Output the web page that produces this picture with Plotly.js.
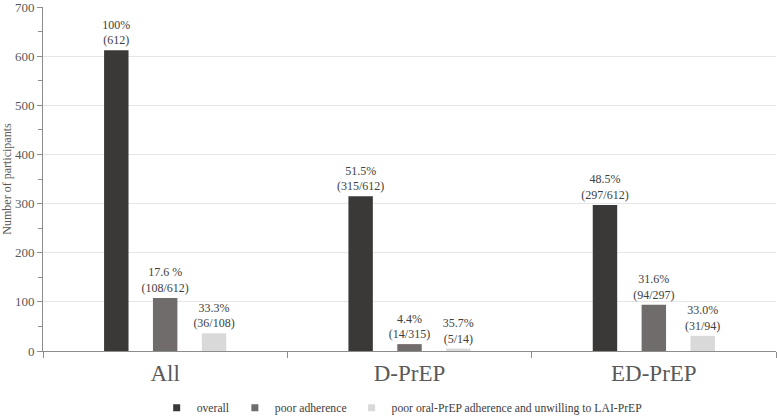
<!DOCTYPE html>
<html>
<head>
<meta charset="utf-8">
<script src="https://cdn.plot.ly/plotly-3.0.1.min.js"></script>
<style>html,body{margin:0;padding:0;background:#fff;}#chart{width:777px;height:417px;}</style>
</head>
<body>
<div id="chart"></div>
<script>
const categories = ["All", "D-PrEP", "ED-PrEP"];
const seriesNames = ["overall", "poor adherence", "poor oral-PrEP adherence and unwilling to LAI-PrEP"];
const overall = [612, 315, 297];
const poorAdherence = [108, 14, 94];
const unwilling = [36, 5, 31];
const overallLabels = ["100%<br>(612)", "51.5%<br>(315/612)", "48.5%<br>(297/612)"];
const poorLabels = ["17.6 %<br>(108/612)", "4.4%<br>(14/315)", "31.6%<br>(94/297)"];
const unwillingLabels = ["33.3%<br>(36/108)", "35.7%<br>(5/14)", "33.0%<br>(31/94)"];
const colors = ["#3b3938", "#706c6b", "#d9d9d9"];

const font = "Liberation Serif, Times New Roman, serif";
const series = [overall, poorAdherence, unwilling];
const labels = [overallLabels, poorLabels, unwillingLabels];

const bars = series.map((vals, i) => ({
  type: "bar",
  name: seriesNames[i],
  x: categories,
  y: vals,
  text: labels[i],
  textposition: "outside",
  constraintext: "none",
  cliponaxis: false,
  textfont: {family: font, size: 12, color: "#404040"},
  marker: {color: colors[i], line: {width: 0}},
  showlegend: false,
  hoverinfo: "none"
}));

const legendEntries = seriesNames.map((n, i) => ({
  type: "scatter",
  mode: "markers",
  name: n,
  x: [null], y: [null],
  marker: {symbol: "square", size: 7, color: colors[i]},
  showlegend: true,
  hoverinfo: "none"
}));

const layout = {
  width: 777, height: 417,
  margin: {l: 43, r: 1, t: 7, b: 66, autoexpand: false},
  paper_bgcolor: "#fff", plot_bgcolor: "#fff",
  font: {family: font, color: "#595959"},
  barmode: "group",
  bargap: 0.4,
  bargroupgap: 0.5,
  showlegend: true,
  legend: {orientation: "h", x: 0.49, xanchor: "center", yref: "container", y: 0.022, yanchor: "middle",
           font: {family: font, size: 11.7, color: "#404040"}, itemwidth: 30, traceorder: "normal"},
  xaxis: {
    type: "category",
    showline: true, linecolor: "#8c8c8c", linewidth: 1,
    ticks: "outside", tickson: "boundaries", ticklen: 6, tickcolor: "#8c8c8c",
    ticklabelstandoff: 1,
    tickfont: {family: font, size: 23, color: "#595959"},
    showgrid: false
  },
  yaxis: {
    range: [0, 700],
    dtick: 100,
    showline: true, linecolor: "#8c8c8c", linewidth: 1,
    ticks: "outside", ticklen: 5, tickcolor: "#8c8c8c",
    ticklabeloverflow: "allow",
    minor: {dtick: 50, ticks: "outside", ticklen: 4, tickcolor: "#8c8c8c", showgrid: false},
    showgrid: true, gridcolor: "#e6e6e6", gridwidth: 1,
    zeroline: false,
    tickfont: {family: font, size: 13, color: "#595959"},
    title: {text: "Number of participants", font: {family: font, size: 12, color: "#595959"}, standoff: 4}
  }
};

Plotly.newPlot("chart", bars.concat(legendEntries), layout, {displayModeBar: false, staticPlot: true});
</script>
</body>
</html>
